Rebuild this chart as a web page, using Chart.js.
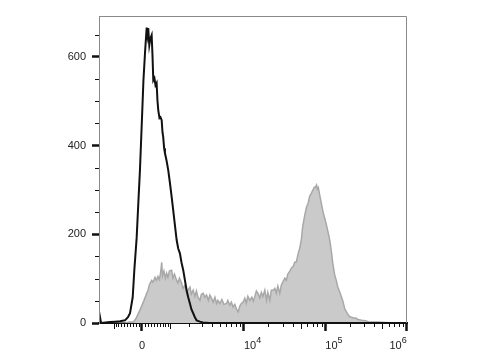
<!DOCTYPE html>
<html>
<head>
<meta charset="utf-8">
<script src="https://cdn.jsdelivr.net/npm/chart.js@4"></script>
<style>
html,body{margin:0;padding:0;background:#fff;}
#wrap{width:480px;height:360px;position:relative;}
</style>
</head>
<body>
<div id="wrap"><canvas id="c" width="480" height="360"></canvas></div>
<script>
// x positions are display channels on a biexponential axis (100 channels per decade, 0 at value 0)
const blackX = [-52.8,-50.3,-39.3,-33.1,-27.0,-20.9,-17.2,-14.7,-11.4,-9.4,-6.5,-4.5,-2.5,0.4,1.8,3.7,4.9,5.8,6.7,7.7,9.0,10.4,11.9,12.9,13.9,15.3,16.6,18.0,19.0,20.0,21.5,22.7,24.2,25.2,26.1,27.2,28.2,30.1,32.3,34.4,36.2,38.4,40.5,42.6,44.5,46.6,48.5,50.7,52.8,54.8,56.8,58.9,60.7,62.9,65.0,67.1,71.2,74.8,83.4,325.6];
const blackY = [26,0,2,3,4,6,13,22,58,119,193,270,344,480,547,608,642,666,649,665,626,642,649,604,547,552,536,541,502,480,462,464,457,430,419,394,383,367,344,315,288,254,220,187,168,157,137,119,96,74,58,44,31,22,13,6,3,1,0,0];

const grayX = [-52.8,-20.9,-14.7,-10.7,-7.4,-4.9,-2.5,0,2.5,5.8,7.4,9.2,11.9,13.5,16.0,17.8,19.6,21.5,23.3,24.2,25.2,27.0,28.8,30.3,31.9,33.7,36.4,38.0,39.9,42.6,44.2,46.0,48.7,50.3,52.8,54.8,56.4,58.9,60.7,62.9,65.0,66.9,68.7,71.2,73.0,75.2,77.3,79.4,81.6,83.4,85.3,87.5,89.6,91.7,93.3,95.7,98.2,100.6,103.9,105.5,108.0,109.8,112.0,114.1,116.2,118.2,120.2,122.1,124.3,126.4,128.2,130.1,132.5,135.0,136.8,138.7,140.5,142.7,144.8,146.6,148.5,150.9,153.0,154.6,157.1,158.9,161.1,163.2,165.0,166.9,169.3,171.2,173.0,175.5,177.3,179.1,181.6,183.7,185.9,187.7,189.8,191.4,193.9,196.0,197.5,200.0,202.1,204.1,206.1,208.2,209.8,211.7,212.9,214.4,215.3,216.6,218.4,220.3,222.5,224.5,226.4,228.6,230.7,232.8,234.4,236.8,238.7,240.5,243.0,244.8,246.6,249.1,250.9,252.8,255.2,257.7,260.1,262.6,265.4,269.9,274.8,279.8,289.6,300.3,310.4,325.6];
const grayY = [0,0,2,2,10,20,29,40,51,67,74,87,96,92,103,96,105,98,119,137,106,117,101,112,103,117,119,101,110,96,90,101,90,78,85,67,74,81,65,74,60,72,58,51,65,67,58,63,51,63,56,47,58,44,51,44,53,42,44,51,40,47,36,42,31,25,38,44,47,56,44,60,51,58,49,60,72,66,56,69,60,74,51,69,51,74,74,78,67,83,67,85,92,101,96,110,117,124,128,137,138,153,169,191,218,243,261,270,286,293,299,306,306,311,302,306,288,270,250,236,223,205,187,160,135,108,96,81,70,60,51,32,26,20,14,13,11,11,8,6,5,2,2,1,0,0];

const yMajorTicks = [0, 200, 400, 600];
const yMinorTicks = [50, 100, 150, 250, 300, 350, 450, 500, 550, 650];
const xMajorValues = [0, 1e4, 1e5, 1e6];
const xMajorBase = ['0', '10', '10', '10'];
const xMajorExp = ['', '4', '5', '6'];
const xMinorValues = [-1000,-900,-800,-700,-600,-500,-400,-300,-200,-100,100,200,300,400,500,600,700,800,900,1000,
  2000,3000,4000,5000,6000,7000,8000,9000,
  20000,30000,40000,50000,60000,70000,80000,90000,
  200000,300000,400000,500000,600000,700000,800000,900000];

const W = 1120;
const toChannel = v => 100 * Math.asinh(v / W) / Math.LN10;

const FONT = "'Liberation Sans', Arial, sans-serif";

const decorations = {
  id: 'decorations',
  afterDraw(chart) {
    const ctx = chart.ctx, a = chart.chartArea;
    const xs = chart.scales.x, ys = chart.scales.y;
    ctx.save();
    // frame (top/right thin grey)
    ctx.strokeStyle = '#8a8a8a';
    ctx.lineWidth = 1;
    ctx.beginPath();
    ctx.moveTo(a.left + 0.5, a.bottom);
    ctx.lineTo(a.left + 0.5, a.top + 0.5);
    ctx.lineTo(a.right - 0.5, a.top + 0.5);
    ctx.lineTo(a.right - 0.5, a.bottom);
    ctx.stroke();
    // minor ticks
    ctx.strokeStyle = '#111';
    ctx.lineWidth = 1;
    ctx.beginPath();
    yMinorTicks.forEach(v => {
      const y = Math.round(ys.getPixelForValue(v)) + 0.5;
      ctx.moveTo(a.left - 4, y); ctx.lineTo(a.left, y);
    });
    xMinorValues.forEach(v => {
      const x = Math.round(xs.getPixelForValue(toChannel(v))) + 0.5;
      const len = (Math.abs(v) === 1000 || v === 50000 || v === 500000) ? 6 : 4;
      ctx.moveTo(x, a.bottom); ctx.lineTo(x, a.bottom + len);
    });
    ctx.stroke();
    // x labels with raised exponents
    ctx.fillStyle = '#222';
    ctx.textBaseline = 'alphabetic';
    ctx.textAlign = 'left';
    const baseY = a.bottom + 26;
    xMajorValues.forEach((v, i) => {
      const x = xs.getPixelForValue(toChannel(v));
      ctx.font = '11px ' + FONT;
      const wb = ctx.measureText(xMajorBase[i]).width;
      ctx.font = '9px ' + FONT;
      const we = xMajorExp[i] ? ctx.measureText(xMajorExp[i]).width : 0;
      const total = wb + we;
      let left;
      if (!xMajorExp[i]) left = x - total / 2;
      else left = (x + total > a.right + 1) ? x - total : x;
      ctx.font = '11px ' + FONT;
      ctx.fillText(xMajorBase[i], left, baseY);
      if (xMajorExp[i]) {
        ctx.font = '9px ' + FONT;
        ctx.fillText(xMajorExp[i], left + wb, baseY - 6);
      }
    });
    ctx.restore();
  }
};

new Chart(document.getElementById('c'), {
  type: 'line',
  data: {
    datasets: [
      {
        label: 'Stained',
        data: blackX.map((x, i) => ({x, y: blackY[i]})),
        borderColor: '#111',
        borderWidth: 2,
        pointRadius: 0,
        fill: false,
        tension: 0
      },
      {
        label: 'Control',
        data: grayX.map((x, i) => ({x, y: grayY[i]})),
        borderColor: '#a8a8a8',
        backgroundColor: '#cacaca',
        borderWidth: 1.5,
        pointRadius: 0,
        fill: 'origin',
        tension: 0
      }
    ]
  },
  options: {
    responsive: false,
    animation: false,
    events: [],
    layout: { padding: { top: 16, right: 73, left: 0, bottom: 0 } },
    plugins: { legend: { display: false }, tooltip: { enabled: false } },
    scales: {
      x: {
        type: 'linear',
        min: -52.8,
        max: 325.6,
        afterBuildTicks: s => { s.ticks = xMajorValues.map(v => ({ value: toChannel(v) })); },
        afterFit: s => { s.height = 37; },
        ticks: { display: false },
        grid: {
          display: true, drawOnChartArea: false, drawTicks: true,
          tickLength: 8, tickWidth: 2.5, tickColor: '#111'
        },
        border: { display: true, color: '#111', width: 2 }
      },
      y: {
        min: 0,
        max: 692,
        afterBuildTicks: s => { s.ticks = yMajorTicks.map(v => ({ value: v })); },
        afterFit: s => { s.width = 99; },
        ticks: {
          font: { family: FONT, size: 11 },
          color: '#222',
          padding: 6
        },
        grid: {
          display: true, drawOnChartArea: false, drawTicks: true,
          tickLength: 7, tickWidth: 2.5, tickColor: '#111'
        },
        border: { display: true, color: '#8a8a8a', width: 1 }
      }
    }
  },
  plugins: [decorations]
});
</script>
</body>
</html>
